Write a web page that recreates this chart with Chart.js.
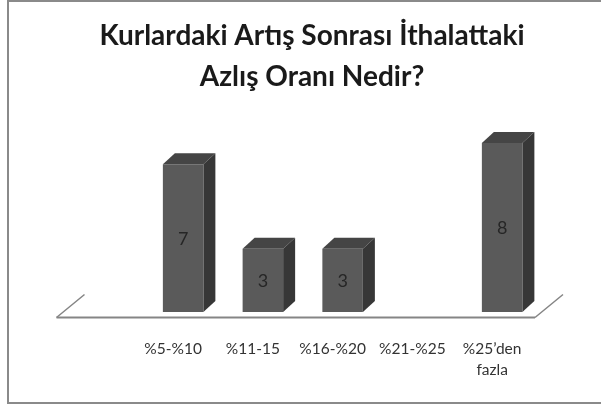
<!DOCTYPE html>
<html>
<head>
<meta charset="utf-8">
<script src="https://cdn.jsdelivr.net/npm/chart.js@4.4.1/dist/chart.umd.min.js"></script>
<style>
  html, body { margin: 0; padding: 0; background: #ffffff; }
  #c { display: block; }
</style>
</head>
<body>
<canvas id="c" width="601" height="407"></canvas>
<script>
// ---- data ----
const titleLines = ['Kurlardaki Artış Sonrası İthalattaki', 'Azlış Oranı Nedir?'];
const categories = ['%5-%10', '%11-15', '%16-%20', '%21-%25', ['%25’den', 'fazla']];
const counts = [7, 3, 3, null, 8];
const yTicks = { min: 0, max: 8 };

// ---- styling ----
const FRONT = '#5a5a5a';
const TOP = '#454545';
const SIDE = '#373737';
const DEPTH_X = 12, DEPTH_Y = -11;

const framePlugin = {
  id: 'frame',
  beforeDraw(chart) {
    const ctx = chart.ctx;
    ctx.save();
    ctx.fillStyle = '#ffffff';
    ctx.fillRect(0, 0, chart.width, chart.height);
    ctx.strokeStyle = '#8a8a8a';
    ctx.lineWidth = 2;
    ctx.beginPath();
    ctx.moveTo(chart.width, 1);
    ctx.lineTo(8, 1);
    ctx.lineTo(8, 403);
    ctx.lineTo(chart.width, 403);
    ctx.stroke();
    ctx.restore();
  }
};

const threeDPlugin = {
  id: 'threeD',
  beforeDatasetsDraw(chart) {
    const ctx = chart.ctx;
    const a = chart.chartArea;
    const B = a.bottom;
    // floor
    const fl = { x: a.left - 7, y: B + 5.5 };
    const fr = { x: a.right - 7, y: B + 5.5 };
    const fdx = 2 * DEPTH_X + 4, fdy = 2 * DEPTH_Y - 1;
    ctx.save();
    ctx.strokeStyle = '#858585';
    ctx.lineWidth = 1.5;
    ctx.beginPath();
    ctx.moveTo(fl.x + fdx, fl.y + fdy);
    ctx.lineTo(fl.x, fl.y);
    ctx.moveTo(fr.x, fr.y);
    ctx.lineTo(fr.x + fdx, fr.y + fdy);
    ctx.stroke();
    ctx.lineWidth = 2.2;
    ctx.beginPath();
    ctx.moveTo(fl.x, fl.y);
    ctx.lineTo(fr.x, fr.y);
    ctx.stroke();
    // bar top and side faces
    const meta = chart.getDatasetMeta(0);
    meta.data.forEach((bar, i) => {
      const v = chart.data.datasets[0].data[i];
      if (v === null || v === undefined) return;
      const p = bar.getProps(['x', 'y', 'base', 'width'], true);
      const l = p.x - p.width / 2, r = p.x + p.width / 2;
      ctx.fillStyle = TOP;
      ctx.beginPath();
      ctx.moveTo(l, p.y);
      ctx.lineTo(l + DEPTH_X, p.y + DEPTH_Y);
      ctx.lineTo(r + DEPTH_X, p.y + DEPTH_Y);
      ctx.lineTo(r, p.y);
      ctx.closePath();
      ctx.fill();
      ctx.fillStyle = SIDE;
      ctx.beginPath();
      ctx.moveTo(r, p.y);
      ctx.lineTo(r + DEPTH_X, p.y + DEPTH_Y);
      ctx.lineTo(r + DEPTH_X, p.base + DEPTH_Y);
      ctx.lineTo(r, p.base);
      ctx.closePath();
      ctx.fill();
    });
    ctx.restore();
  },
  afterDatasetsDraw(chart) {
    const ctx = chart.ctx;
    const meta = chart.getDatasetMeta(0);
    ctx.save();
    ctx.fillStyle = '#262626';
    ctx.font = '18px Lato';
    ctx.textAlign = 'center';
    ctx.textBaseline = 'middle';
    meta.data.forEach((bar, i) => {
      const v = chart.data.datasets[0].data[i];
      if (v === null || v === undefined) return;
      const p = bar.getProps(['x', 'y', 'base'], true);
      ctx.fillText(String(v), p.x, (p.y + p.base) / 2 + 1);
    });
    ctx.restore();
  }
};

new Chart(document.getElementById('c'), {
  type: 'bar',
  data: {
    labels: [''].concat(categories),
    datasets: [{
      data: [null].concat(counts),
      backgroundColor: FRONT,
      borderWidth: 0,
      barPercentage: 0.508,
      categoryPercentage: 1
    }]
  },
  options: {
    responsive: false,
    animation: false,
    layout: { padding: { left: 63.5, right: 40.5, top: 0, bottom: 0 } },
    plugins: {
      legend: { display: false },
      tooltip: { enabled: false },
      title: {
        display: true,
        text: titleLines,
        color: '#1a1a1a',
        font: { family: 'Lato', weight: 'bold', size: 28, lineHeight: '41px' },
        padding: { top: 15, bottom: 46 }
      }
    },
    scales: {
      x: {
        grid: { display: false, drawTicks: false, tickLength: 0 },
        border: { display: false },
        ticks: {
          autoSkip: false,
          maxRotation: 0,
          minRotation: 0,
          padding: 26,
          labelOffset: -10,
          color: '#333333',
          font: { family: 'Lato', size: 15.5, lineHeight: '21.5px' }
        }
      },
      y: {
        position: 'right',
        min: yTicks.min,
        max: yTicks.max,
        grid: { display: false, drawTicks: false },
        border: { display: false },
        ticks: { display: false },
        afterFit(axis) { axis.width = 18.5; }
      }
    }
  },
  plugins: [framePlugin, threeDPlugin]
});
</script>
</body>
</html>
